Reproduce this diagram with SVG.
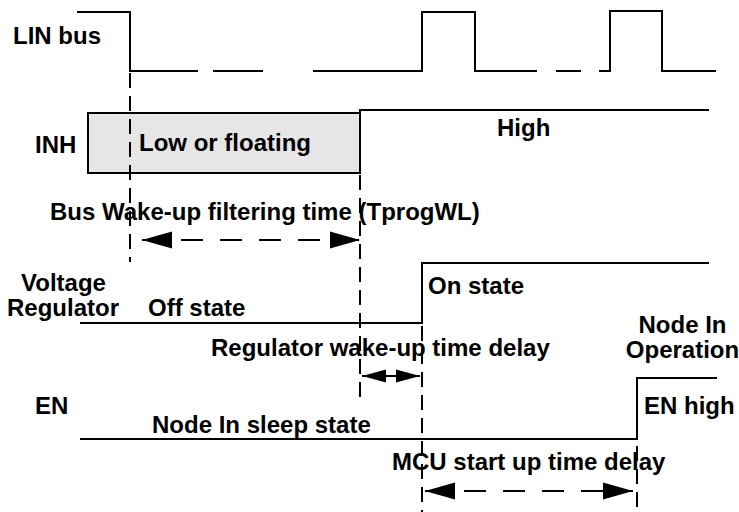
<svg xmlns="http://www.w3.org/2000/svg" width="739" height="512" viewBox="0 0 739 512">
<style>
text{font-family:"Liberation Sans",Arial,sans-serif;font-weight:bold;font-size:24px;fill:#000}
.sig{fill:none;stroke:#000;stroke-width:2}
.guide{fill:none;stroke:#000;stroke-width:2;stroke-dasharray:15 8}
.dim{fill:none;stroke:#000;stroke-width:2;stroke-dasharray:22 17}
</style>
<defs>
<marker id="ah" markerUnits="userSpaceOnUse" markerWidth="30" markerHeight="18" refX="30" refY="8.5" orient="auto-start-reverse" viewBox="0 0 30 17">
<path d="M0,0 L30,8.5 L0,17 z" fill="#000"/>
</marker>
<marker id="ahs" markerUnits="userSpaceOnUse" markerWidth="24" markerHeight="14" refX="24" refY="6.5" orient="auto-start-reverse" viewBox="0 0 24 13">
<path d="M0,0 L24,6.5 L0,13 z" fill="#000"/>
</marker>
</defs>
<rect width="739" height="512" fill="#fff"/>

<g id="lin-bus">
<text x="13" y="44">LIN bus</text>
<polyline class="sig" points="77,12 130,12 130,71 198,71"/>
<line class="sig" x1="213" y1="71" x2="263" y2="71"/>
<polyline class="sig" points="313,71 422,71 422,12 475,12 475,71 537,71"/>
<line class="sig" x1="556" y1="71" x2="581" y2="71"/>
<polyline class="sig" points="599,71 610,71 610,11 662,11 662,71 716,71"/>
</g>

<g id="inh">
<text x="35" y="153">INH</text>
<rect x="88" y="113" width="272" height="60" fill="#e6e6e6" stroke="#000" stroke-width="2"/>
<polyline class="sig" points="360,173 360,110 709,110"/>
<text x="139" y="151">Low or floating</text>
<text x="497" y="136">High</text>
</g>

<g id="voltage-regulator">
<text x="21" y="291">Voltage</text>
<text x="7" y="316">Regulator</text>
<text x="148" y="316">Off state</text>
<polyline class="sig" points="80,323 422,323 422,263 709,263"/>
<text x="428" y="294">On state</text>
</g>

<g id="en">
<text x="35" y="414">EN</text>
<polyline class="sig" points="80,439 637,439 637,378 717,378"/>
<text x="152" y="433">Node In sleep state</text>
<text x="644" y="414">EN high</text>
<text x="682.5" y="333" text-anchor="middle">Node In</text>
<text x="682.5" y="358" text-anchor="middle">Operation</text>
</g>

<g id="labels">
<text x="50" y="220">Bus Wake-up filtering time (TprogWL)</text>
<text x="211" y="356">Regulator wake-up time delay</text>
<text x="392" y="470">MCU start up time delay</text>
</g>

<g id="connectors">
<line class="guide" x1="130" y1="73" x2="130" y2="262"/>
<line class="guide" x1="360" y1="175" x2="360" y2="398"/>
<line class="guide" x1="422" y1="326" x2="422" y2="512"/>
<line class="guide" x1="637" y1="446" x2="637" y2="512"/>
<line class="dim" x1="142" y1="240" x2="360" y2="240" marker-start="url(#ah)" marker-end="url(#ah)"/>
<line class="sig" x1="362" y1="376" x2="420" y2="376" marker-start="url(#ahs)" marker-end="url(#ahs)"/>
<line class="dim" x1="425" y1="491" x2="633" y2="491" marker-start="url(#ah)" marker-end="url(#ah)"/>
</g>
</svg>
